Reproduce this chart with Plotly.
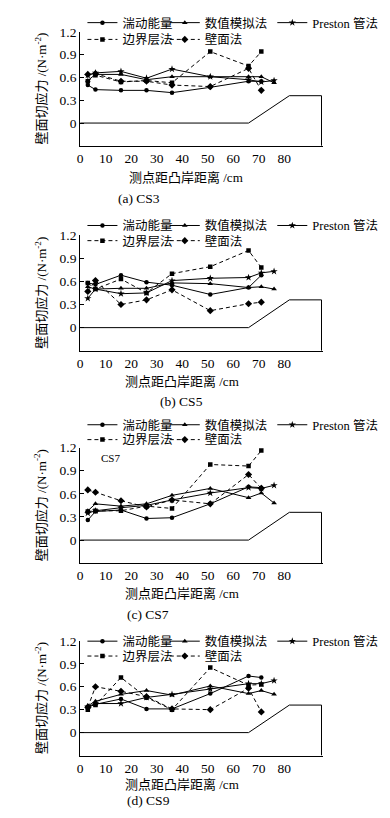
import plotly.graph_objects as go

# ---------------- data ----------------
x_pts = [3, 6, 16, 26, 36, 51, 66, 71, 76]
x_tick_vals = [0, 10, 20, 30, 40, 50, 60, 70, 80]
y_tick_vals = [0, 0.3, 0.6, 0.9, 1.2]
y_tick_text = ["0", "0.3", "0.6", "0.9", "1.2"]

series_names = ["湍动能量", "数值模拟法", "Preston 管法", "边界层法", "壁面法"]

# CS3
tke_cs3 = [0.50, 0.44, 0.43, 0.43, 0.40, 0.47, 0.55, 0.55]
num_cs3 = [0.56, 0.64, 0.64, 0.57, 0.61, 0.61, 0.61, 0.61, 0.53]
pre_cs3 = [0.63, 0.66, 0.68, 0.59, 0.71, 0.61, 0.57, 0.54, 0.56]
bl_cs3 = [0.55, 0.63, 0.54, 0.56, 0.53, 0.94, 0.75, 0.94]
wall_cs3 = [0.64, 0.65, 0.55, 0.55, 0.50, 0.48, 0.72, 0.43]

# CS5
tke_cs5 = [0.58, 0.56, 0.68, 0.59, 0.55, 0.43, 0.52, 0.68]
num_cs5 = [0.53, 0.50, 0.51, 0.51, 0.58, 0.57, 0.52, 0.53, 0.50]
pre_cs5 = [0.38, 0.50, 0.44, 0.45, 0.61, 0.64, 0.65, 0.71, 0.73]
bl_cs5 = [0.58, 0.50, 0.63, 0.45, 0.70, 0.79, 1.00, 0.78]
wall_cs5 = [0.47, 0.61, 0.30, 0.36, 0.49, 0.22, 0.31, 0.33]

# CS7
tke_cs7 = [0.26, 0.37, 0.39, 0.28, 0.29, 0.47, 0.69, 0.68]
num_cs7 = [0.38, 0.47, 0.44, 0.47, 0.58, 0.67, 0.55, 0.61, 0.48]
pre_cs7 = [0.35, 0.38, 0.42, 0.45, 0.52, 0.61, 0.68, 0.67, 0.71]
bl_cs7 = [0.37, 0.38, 0.38, 0.44, 0.41, 0.98, 0.96, 1.16]
wall_cs7 = [0.65, 0.62, 0.51, 0.43, 0.52, 0.47, 0.85, 0.67]

# CS9
tke_cs9 = [0.33, 0.37, 0.44, 0.31, 0.31, 0.51, 0.74, 0.72]
num_cs9 = [0.35, 0.41, 0.50, 0.55, 0.49, 0.61, 0.51, 0.55, 0.50]
pre_cs9 = [0.34, 0.38, 0.38, 0.46, 0.50, 0.57, 0.64, 0.64, 0.68]
bl_cs9 = [0.30, 0.36, 0.72, 0.46, 0.30, 0.85, 0.62, 0.63]
wall_cs9 = [0.33, 0.60, 0.54, 0.47, 0.31, 0.30, 0.58, 0.27]

# bank profile (convex bank cross-section outline)
bank_x = [0, 66, 82, 94.6, 94.6]
bank_y = [0, 0, 0.36, 0.36, -0.3]

captions = ["(a) CS3", "(b) CS5", "(c) CS7", "(d) CS9"]

panels = [
    [tke_cs3, num_cs3, pre_cs3, bl_cs3, wall_cs3],
    [tke_cs5, num_cs5, pre_cs5, bl_cs5, wall_cs5],
    [tke_cs7, num_cs7, pre_cs7, bl_cs7, wall_cs7],
    [tke_cs9, num_cs9, pre_cs9, bl_cs9, wall_cs9],
]

# ---------------- styling / layout ----------------
PAGE_PAD = 8            # default body margin of the html page
W, H = 390 - PAGE_PAD, 818 - PAGE_PAD
FONT = "Liberation Serif, Noto Sans CJK SC, serif"
styles = [
    dict(symbol="circle", size=4.5, dash="solid"),
    dict(symbol="triangle-up", size=5, dash="solid"),
    dict(symbol="star", size=5.5, dash="solid"),
    dict(symbol="square", size=4.5, dash="4px,3px"),
    dict(symbol="diamond", size=5.5, dash="4px,3px"),
]

x_left, x_right = 77.7, 322.0
tops = [25.0, 230.0, 444.3, 639.3]
bottoms = [140.0, 346.7, 561.0, 755.0]
legend_rows = [(16, 33), (220.7, 236), (421.7, 436.7), (640, 655)]
legend_cols = [80, 163]
xtitle_pos = [(184, 171.7), (180, 378), (180, 591.7), (180, 784)]
caption_pos = [(137, 193), (180, 398), (146, 613), (147, 800)]


def px_x(p):
    return (p - PAGE_PAD) / W


def px_y(p):
    return 1 - (p - PAGE_PAD) / H


fig = go.Figure()
layout = dict(
    width=W, height=H,
    margin=dict(l=0, r=0, t=0, b=0),
    paper_bgcolor="white", plot_bgcolor="white",
    font=dict(family=FONT, size=13, color="black"),
    showlegend=True,
)
annotations = []
leg_count = 0

for i, data in enumerate(panels):
    n = i + 1
    xa = "x" if n == 1 else f"x{n}"
    ya = "y" if n == 1 else f"y{n}"
    xkey = "xaxis" if n == 1 else f"xaxis{n}"
    ykey = "yaxis" if n == 1 else f"yaxis{n}"

    # legend groups: row1 col1 | row1 col2 (two items) | row2 col1 | row2 col2
    leg_ids = []
    for j in range(4):
        leg_count += 1
        leg_ids.append("legend" if leg_count == 1 else f"legend{leg_count}")
    item_legend = [leg_ids[0], leg_ids[1], leg_ids[1], leg_ids[2], leg_ids[3]]
    leg_pos = [
        (legend_cols[0], legend_rows[i][0]),
        (legend_cols[1], legend_rows[i][0]),
        (legend_cols[0], legend_rows[i][1]),
        (legend_cols[1], legend_rows[i][1]),
    ]

    # bank outline
    fig.add_trace(go.Scatter(
        x=bank_x, y=bank_y, mode="lines", xaxis=xa, yaxis=ya,
        line=dict(color="black", width=1), showlegend=False, hoverinfo="skip",
    ))

    for k, (name, vals, st) in enumerate(zip(series_names, data, styles)):
        fig.add_trace(go.Scatter(
            x=x_pts[:len(vals)], y=vals, name=name, mode="lines+markers",
            xaxis=xa, yaxis=ya, legend=item_legend[k],
            line=dict(color="black", width=1, dash=st["dash"]),
            marker=dict(symbol=st["symbol"], size=st["size"], color="black"),
        ))

    layout[xkey] = dict(
        domain=[px_x(x_left), px_x(x_right)], anchor=ya,
        range=[0, 95], tickvals=x_tick_vals, ticks="", showgrid=False,
        zeroline=False, showline=True, linecolor="black", linewidth=1,
        tickfont=dict(family=FONT, size=13.5, color="black"),
    )
    layout[ykey] = dict(
        domain=[px_y(bottoms[i]), px_y(tops[i])], anchor=xa,
        range=[-0.3, 1.2], tickvals=y_tick_vals, ticktext=y_tick_text,
        ticks="inside", ticklen=4, tickcolor="black", showgrid=False,
        zeroline=False, showline=True, linecolor="black", linewidth=1,
        tickfont=dict(family=FONT, size=13.5, color="black"),
    )

    for leg, (lx, ly) in zip(leg_ids, leg_pos):
        layout[leg] = dict(
            x=px_x(lx), y=px_y(ly), xanchor="left", yanchor="middle",
            orientation="h", bgcolor="rgba(0,0,0,0)", borderwidth=0,
            font=dict(family=FONT, size=12.5, color="black"), itemwidth=30,
        )

    annotations.append(dict(
        text="壁面切应力 /(N·m<sup>-2</sup>)", textangle=-90,
        x=px_x(38), y=px_y((tops[i] + bottoms[i]) / 2), xref="paper", yref="paper",
        xanchor="center", yanchor="middle", showarrow=False,
        font=dict(family=FONT, size=13, color="black"),
    ))
    annotations.append(dict(
        text="测点距凸岸距离 /cm",
        x=px_x(xtitle_pos[i][0]), y=px_y(xtitle_pos[i][1]), xref="paper", yref="paper",
        xanchor="center", yanchor="middle", showarrow=False,
        font=dict(family=FONT, size=13, color="black"),
    ))
    annotations.append(dict(
        text=captions[i],
        x=px_x(caption_pos[i][0]), y=px_y(caption_pos[i][1]), xref="paper", yref="paper",
        xanchor="center", yanchor="middle", showarrow=False,
        font=dict(family=FONT, size=13.5, color="black"),
    ))

annotations.append(dict(
    text="CS7", x=px_x(108), y=px_y(455), xref="paper", yref="paper",
    xanchor="center", yanchor="middle", showarrow=False,
    font=dict(family=FONT, size=11, color="black"),
))

layout["annotations"] = annotations
fig.update_layout(**layout)
fig.write_html("out.html")
